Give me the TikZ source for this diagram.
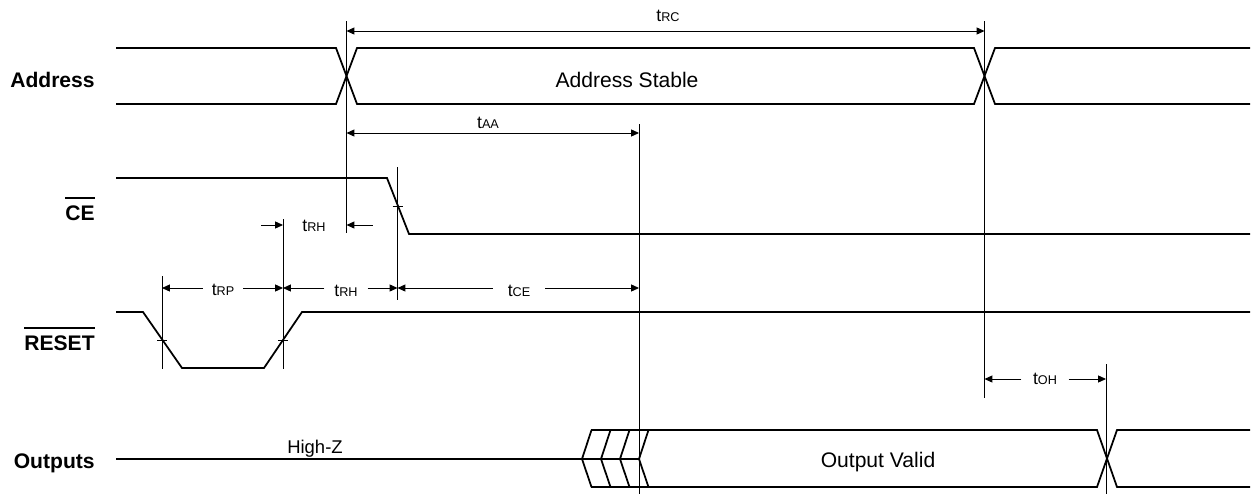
\documentclass[tikz,border=0pt]{standalone}
\usepackage{fontspec}
\setmainfont{Liberation Sans}
\usetikzlibrary{arrows.meta,calc}

\newcommand{\tname}[1]{{\fontsize{10}{12}\selectfont t\fontsize{7.2}{8}\selectfont #1}}

\begin{document}
\begin{tikzpicture}
		[x=0.02cm,y=-0.02cm,
		sig/.style={line width=1pt,line join=miter},
		guide/.style={line width=0.5pt},
		bar/.style={line width=1.4pt},
		dim/.style={line width=0.5pt,-{Triangle[length=4.5pt,width=4pt]}},
		dimboth/.style={line width=0.5pt,{Triangle[length=4.5pt,width=4pt]}-{Triangle[length=4.5pt,width=4pt]}},
		siglabel/.style={anchor=base east,inner sep=0pt,font=\fontsize{12}{14}\selectfont\bfseries},
		wavetext/.style={anchor=base,inner sep=0pt,font=\fontsize{12}{14}\selectfont},
		tlabel/.style={anchor=base,inner ysep=0pt}]
		\useasboundingbox (0,0) rectangle (1251,494);
		%% signal names
		\node[siglabel] (addr) at (95,87) {Address};
		\node[siglabel] (ce) at (95,220) {CE};
		\node[siglabel] (reset) at (95,350) {RESET};
		\node[siglabel] (outs) at (95,468) {Outputs};
		\draw[bar] ($(ce.north west)+(0,-7)$) -- ($(ce.north east)+(0,-7)$);
		\draw[bar] ($(reset.north west)+(0,-7)$) -- ($(reset.north east)+(0,-7)$);
		%% waveforms
		\draw[sig] (116,48) -- (336,48) -- (357,104) -- (974,104) -- (995,48) -- (1250,48);
		\draw[sig] (116,104) -- (336,104) -- (357,48) -- (974,48) -- (995,104) -- (1250,104);
		\node[wavetext] (stable) at (627,87) {Address Stable};
		\draw[sig] (116,178) -- (387,178) -- (409,234) -- (1250,234);
		\draw[sig] (116,312) -- (143,312) -- (182,368) -- (264,368) -- (302,312) -- (1250,312);
		\draw[sig] (116,459) -- (639,459);
		\foreach \cx in {582,601,620,639}
		{
			\draw[sig] (\cx+9.5,430) -- (\cx,459) -- (\cx+9.5,487);
		}
		\draw[sig] (591,430) -- (1097,430) -- (1117,487) -- (1250,487);
		\draw[sig] (591,487) -- (1097,487) -- (1117,430) -- (1250,430);
		\node[wavetext] (valid) at (878,467) {Output Valid};
		\node[wavetext,font=\fontsize{10.5}{12}\selectfont] (highz) at (315,453) {High-Z};
		%% reference lines
		\foreach \vname/\vx/\vtop/\vbot in {a/346.5/21/233, b/984.5/21/398, c/639/124/494,
			d/397.5/167/300, e/283/219/369, f/162/276/369, g/1106/364/494}
		{
			\coordinate (top\vname) at (\vx,\vtop);
			\coordinate (bot\vname) at (\vx,\vbot);
			\draw[guide] (top\vname) -- (bot\vname);
		}
		\foreach \tx/\ty in {397.5/206, 162/340, 283/340}
		{
			\draw[guide] (\tx-5,\ty) -- (\tx+5,\ty);
		}
		%% timing
		\node[tlabel] (trc) at (668,21) {\tname{RC}};
		\coordinate (trcline) at (668,31);
		\draw[dimboth] (topa |- trcline) -- (topb |- trcline);
		\node[tlabel] (taa) at (488,128) {\tname{AA}};
		\coordinate (taaline) at (488,133);
		\draw[dimboth] (topa |- taaline) -- (topc |- taaline);
		\node[tlabel] (trhup) at (314,231) {\tname{RH}};
		\coordinate (trhline) at (314,225);
		\draw[dim] ($(tope |- trhline)+(-22,0)$) -- (tope |- trhline);
		\draw[dim] ($(topa |- trhline)+(26,0)$) -- (topa |- trhline);
		\coordinate (row) at (0,288);
		\node[tlabel,inner xsep=4.9pt] (trp) at (223,295) {\tname{RP}};
		\node[tlabel,inner xsep=5.5pt] (trh) at (346,296) {\tname{RH}};
		\node[tlabel,inner xsep=8.4pt] (tce) at (519,296) {\tname{CE}};
		\path
		\foreach \lbl/\lside/\rside in {trp/f/e, trh/e/d, tce/d/c}
		{
			(\lbl.west |- row) edge[dim] (top\lside |- row)
			(\lbl.east |- row) edge[dim] (top\rside |- row)
		};
		\node[tlabel,inner xsep=6.5pt] (toh) at (1045,384) {\tname{OH}};
		\coordinate (tohline) at (0,379);
		\draw[dim] (toh.west |- tohline) -- (topb |- tohline);
		\draw[dim] (toh.east |- tohline) -- (topg |- tohline);
\end{tikzpicture}
\end{document}
